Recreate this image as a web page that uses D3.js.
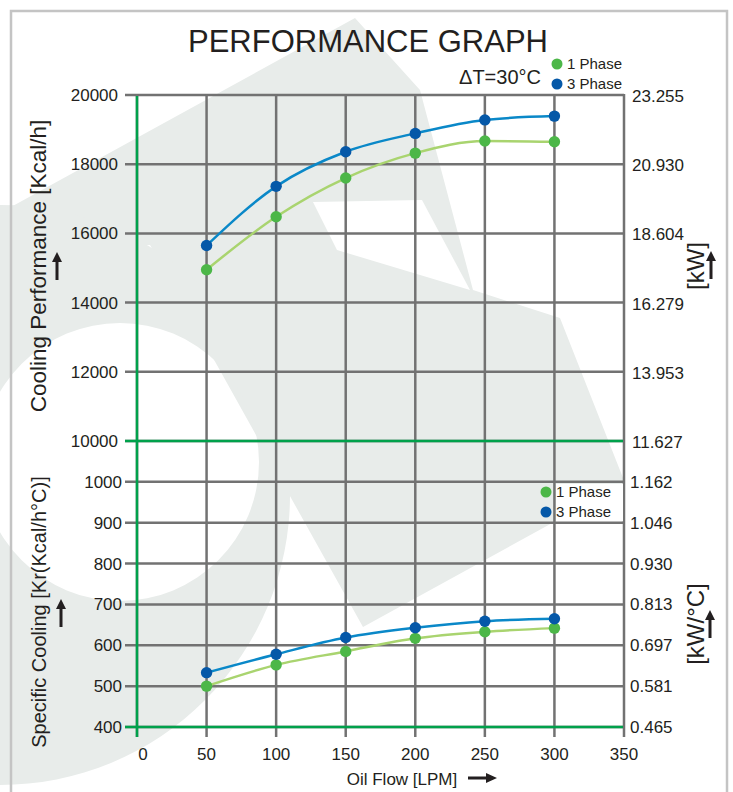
<!DOCTYPE html>
<html>
<head>
<meta charset="utf-8">
<script src="https://cdn.jsdelivr.net/npm/d3@7"></script>
<style>
  body { margin: 0; background: #fff; }
  svg { display: block; }
  text { font-family: "Liberation Sans", Arial, sans-serif; fill: #231f20; }
</style>
</head>
<body>
<div id="chart"></div>
<script>
// data
const flow = [50, 100, 150, 200, 250, 300];
const cool1 = [14950, 16480, 17600, 18320, 18670, 18650];
const cool3 = [15650, 17360, 18360, 18890, 19280, 19390];
const spec1 = [500, 552, 585, 617, 633, 642];
const spec3 = [533, 578, 619, 643, 659, 665];

const xTicks = [0, 50, 100, 150, 200, 250, 300, 350];
const topTicks = [20000, 18000, 16000, 14000, 12000, 10000];
const topKw = ["23.255", "20.930", "18.604", "16.279", "13.953", "11.627"];
const botTicks = [1000, 900, 800, 700, 600, 500, 400];
const botKw = ["1.162", "1.046", "0.930", "0.813", "0.697", "0.581", "0.465"];

const W = 733, H = 792;
const gridCol = "#727272", greenCol = "#00a14b";
const col1 = "#4cb748", line1 = "#a9d46f";
const col3 = "#0558a8", line3 = "#0a88c8";

const svg = d3.select("#chart").append("svg")
    .attr("width", W)
    .attr("height", H);

const x = d3.scaleLinear().domain([0, 350]).range([137, 624]);
const yTop = d3.scaleLinear().domain([10000, 20000]).range([441, 95]);
// lower panel: 1100 sits on the 10000 line
const yBot = d3.scaleLinear().domain([400, 1100]).range([727, 441]);

//watermark logo (very light, behind everything)
const wm = svg.append("g").attr("fill", "#e8ecea");
wm.append("path").attr("d", "M0,213 L355,18 L420,90 L473,290 L560,318 L625,483 L363,627 L150,245 L0,250 Z");
//ring on the left, hole cut out with evenodd
wm.append("path")
    .attr("fill-rule", "evenodd")
    .attr("d", "M290,495 A290,290 0 1,1 -290,495 A290,290 0 1,1 290,495 Z " +
               "M259,462 A139,139 0 1,0 -19,462 A139,139 0 1,0 259,462 Z");
wm.append("path")
    .attr("fill", "#fff")
    .attr("d", "M313,202 L422,200 L470,290 L337,250 Z");

//frame
svg.append("rect")
    .attr("x", 11).attr("y", 11)
    .attr("width", 716).attr("height", 800)
    .attr("fill", "none")
    .attr("stroke", "#c4c4c4")
    .attr("stroke-width", 2.5);

const grid = svg.append("g").attr("stroke-width", 2.5);

//horizontal lines, top panel
grid.selectAll(".ht")
    .data(topTicks)
    .enter()
    .append("line")
    .attr("x1", 125).attr("x2", 624)
    .attr("y1", d => yTop(d)).attr("y2", d => yTop(d))
    .attr("stroke", gridCol);

//horizontal lines, bottom panel
grid.selectAll(".hb")
    .data(botTicks)
    .enter()
    .append("line")
    .attr("x1", 125).attr("x2", 624)
    .attr("y1", d => yBot(d)).attr("y2", d => yBot(d))
    .attr("stroke", gridCol);

//vertical lines
grid.selectAll(".v")
    .data(xTicks)
    .enter()
    .append("line")
    .attr("x1", d => x(d)).attr("x2", d => x(d))
    .attr("y1", yTop(20000) - 1).attr("y2", 737)
    .attr("stroke", gridCol);

//green lines drawn over the grey ones
grid.selectAll(".g")
    .data([yTop(10000), yBot(400)])
    .enter()
    .append("line")
    .attr("x1", 125).attr("x2", 623)
    .attr("y1", d => d).attr("y2", d => d)
    .attr("stroke", greenCol);
grid.append("line")
    .attr("x1", x(0)).attr("x2", x(0))
    .attr("y1", yTop(20000) + 1).attr("y2", 737)
    .attr("stroke", greenCol);

//tick labels
svg.selectAll(".lt")
    .data(topTicks)
    .enter()
    .append("text")
    .attr("x", 118)
    .attr("y", d => yTop(d) + 6)
    .attr("text-anchor", "end")
    .style("font-size", "17px")
    .text(d => d);

svg.selectAll(".lb")
    .data(botTicks)
    .enter()
    .append("text")
    .attr("x", 122)
    .attr("y", d => yBot(d) + 6)
    .attr("text-anchor", "end")
    .style("font-size", "17px")
    .text(d => d);

svg.selectAll(".rt")
    .data(topTicks)
    .enter()
    .append("text")
    .attr("x", 632)
    .attr("y", d => yTop(d) + 7)
    .style("font-size", "17px")
    .text((d, i) => topKw[i]);

svg.selectAll(".rb")
    .data(botTicks)
    .enter()
    .append("text")
    .attr("x", 630)
    .attr("y", d => yBot(d) + 6)
    .style("font-size", "17px")
    .text((d, i) => botKw[i]);

svg.selectAll(".xl")
    .data(xTicks)
    .enter()
    .append("text")
    .attr("x", d => x(d) + (d === 0 ? 6 : 0))
    .attr("y", 760)
    .attr("text-anchor", "middle")
    .style("font-size", "17px")
    .text(d => d);

//curves and dots
const series = [
    { vals: cool1, y: yTop, dot: col1, line: line1 },
    { vals: cool3, y: yTop, dot: col3, line: line3 },
    { vals: spec1, y: yBot, dot: col1, line: line1 },
    { vals: spec3, y: yBot, dot: col3, line: line3 },
];

series.forEach(s => {
    const pts = flow.map((f, i) => [f, s.vals[i]]);
    const line = d3.line()
        .x(d => x(d[0]))
        .y(d => s.y(d[1]))
        .curve(d3.curveMonotoneX);
    svg.append("path")
        .attr("d", line(pts))
        .attr("fill", "none")
        .attr("stroke", s.line)
        .attr("stroke-width", 2.5);
    svg.selectAll(null)
        .data(pts)
        .enter()
        .append("circle")
        .attr("cx", d => x(d[0]))
        .attr("cy", d => s.y(d[1]))
        .attr("r", 5.7)
        .attr("fill", s.dot);
});

//title and legends
svg.append("text")
    .attr("x", 368).attr("y", 52)
    .attr("text-anchor", "middle")
    .style("font-size", "31px")
    .text("PERFORMANCE GRAPH");

svg.append("text")
    .attr("x", 541).attr("y", 84)
    .attr("text-anchor", "end")
    .style("font-size", "20px")
    .text("ΔT=30°C");

function legend(lx, ly) {
    const lg = svg.append("g");
    [["1 Phase", col1], ["3 Phase", col3]].forEach((d, i) => {
        lg.append("circle")
            .attr("cx", lx).attr("cy", ly + i * 20)
            .attr("r", 5.5)
            .attr("fill", d[1]);
        lg.append("text")
            .attr("x", lx + 10).attr("y", ly + i * 20 + 5)
            .style("font-size", "15px")
            .text(d[0]);
    });
}
legend(557, 64);

svg.append("rect")
    .attr("x", 556).attr("y", 484)
    .attr("width", 67).attr("height", 37)
    .attr("fill", "#fff");
legend(546, 492);

//axis titles with arrows
function arrowUp(ax, ay) {
    svg.append("path")
        .attr("d", `M${ax - 1.5},${ay + 28} L${ax - 1.5},${ay + 10} L${ax - 5},${ay + 10} L${ax},${ay} L${ax + 5},${ay + 10} L${ax + 1.5},${ay + 10} L${ax + 1.5},${ay + 28} Z`)
        .attr("fill", "#231f20");
}

function vText(tx, ty, size, str) {
    svg.append("text")
        .attr("transform", `translate(${tx},${ty}) rotate(-90)`)
        .attr("text-anchor", "middle")
        .style("font-size", size + "px")
        .text(str);
}

vText(46, 266, 22.5, "Cooling Performance [Kcal/h]");
arrowUp(57, 252);
vText(46, 612, 20, "Specific Cooling [Kr(Kcal/h°C)]");
arrowUp(61, 599);
vText(704, 266, 24, "[kW]");
arrowUp(711, 251);
vText(704, 624, 24, "[kW/°C]");
arrowUp(710, 610);

svg.append("text")
    .attr("x", 402).attr("y", 785)
    .attr("text-anchor", "middle")
    .style("font-size", "17px")
    .text("Oil Flow [LPM]");
svg.append("path")
    .attr("d", "M468,776.5 L486,776.5 L486,773 L497,778 L486,783 L486,779.5 L468,779.5 Z")
    .attr("fill", "#231f20");
</script>
</body>
</html>
